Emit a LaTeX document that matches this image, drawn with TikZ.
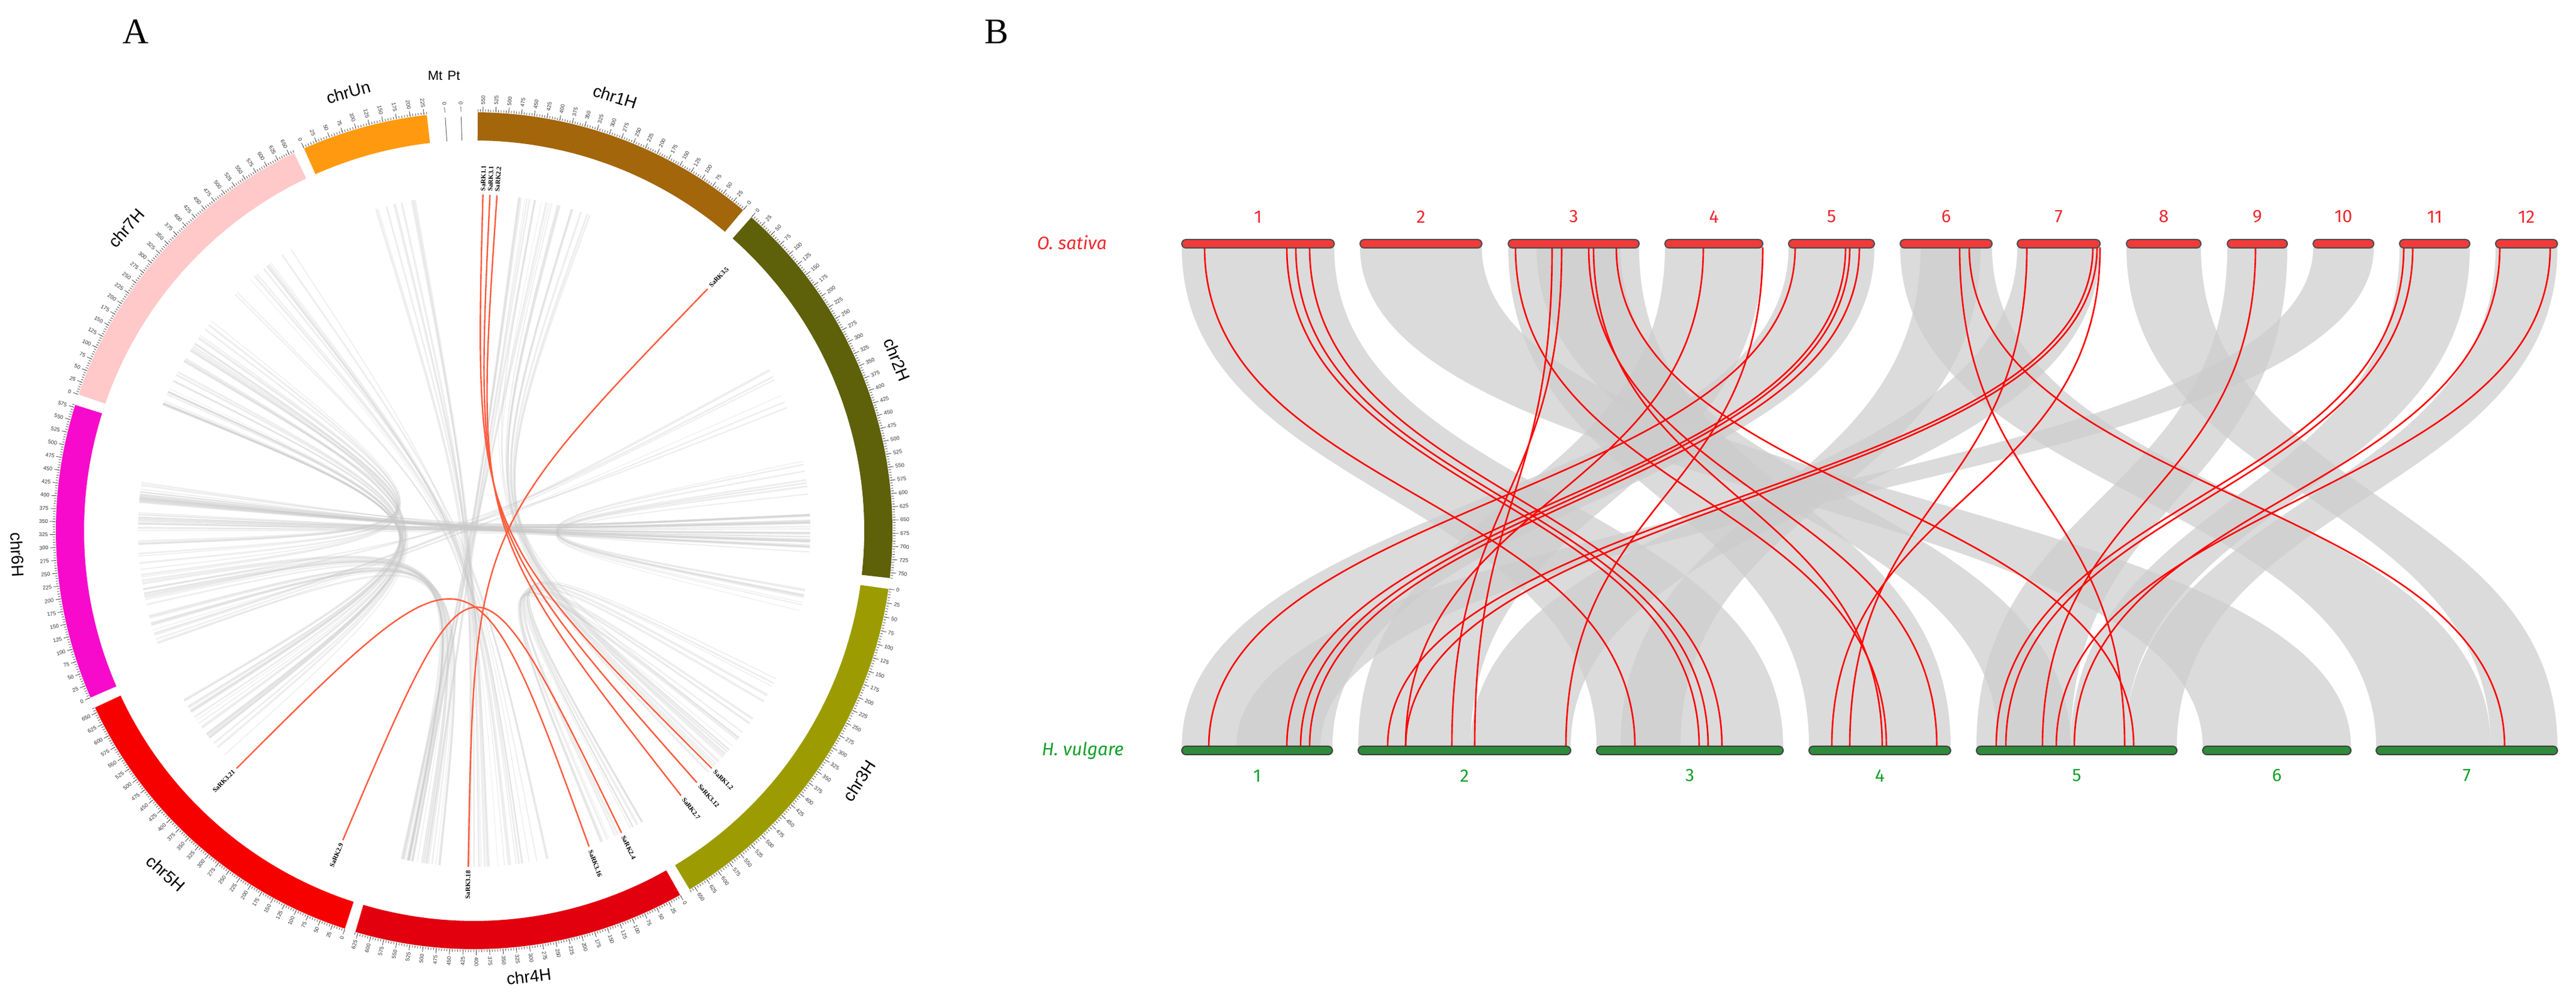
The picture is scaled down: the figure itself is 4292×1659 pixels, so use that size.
\documentclass[tikz,border=0pt]{standalone}
\usepackage{fontspec}
\setmainfont{Liberation Serif}
\newfontfamily\sansf{Liberation Sans}
\newfontfamily\fira{Fira Sans}
\definecolor{c1}{HTML}{A3660A}
\definecolor{c2}{HTML}{5E600A}
\definecolor{c3}{HTML}{9C9C02}
\definecolor{c4}{HTML}{E2000F}
\definecolor{c5}{HTML}{F70000}
\definecolor{c6}{HTML}{F70ACB}
\definecolor{c7}{HTML}{FFC9C9}
\definecolor{c8}{HTML}{FF9A10}
\definecolor{rlk}{HTML}{FF5A3C}
\definecolor{rtx}{HTML}{F0282D}
\definecolor{gtx}{HTML}{13A02A}
\definecolor{gbar}{HTML}{2E8B3A}
\definecolor{rbar}{HTML}{F23A3A}
\tikzset{
 tick/.style={line width=0.8pt,black!70},
 ticklab/.style={font=\sansf\fontsize{9}{9}\selectfont,inner sep=0pt,text=black!80},
 chrname/.style={font=\sansf\fontsize{28}{28}\selectfont,inner sep=0pt},
 gene/.style={font=\bfseries\fontsize{11}{11}\selectfont,inner sep=0pt},
 redlink/.style={rlk,line width=2.4pt},
 graylink/.style={black!22,opacity=0.3},
 rib/.style={fill=black!20,opacity=0.7},
 rline/.style={red,line width=2.6pt},
 ricebar/.style={fill=rbar,draw=black!70,line width=2pt,rounded corners=7pt},
 barbar/.style={fill=gbar,draw=black!75,line width=2pt,rounded corners=7pt},
 rnum/.style={font=\fira\fontsize{30}{30}\selectfont,text=rtx},
 gnum/.style={font=\fira\fontsize{30}{30}\selectfont,text=gtx},
 panel/.style={font=\fontsize{60}{60}\selectfont}
}
\newcommand\chrom[8]{%
 \fill[#5] ({90-#1}:650pt) arc[start angle={90-#1},end angle={90-#2},radius=650pt] -- ({90-#2}:697pt) arc[start angle={90-#2},end angle={90-#1},radius=697pt] -- cycle;
 \pgfmathsetmacro\scl{(#2-#1)/#3}
 \pgfmathtruncatemacro\Lmin{5*floor(#3/5)}
 \pgfmathtruncatemacro\Lmaj{25*floor(#3/25)}
 \foreach \v in {0,5,...,\Lmin}{\pgfmathsetmacro\tA{#4==1 ? #2-\v*\scl : #1+\v*\scl}
   \draw[tick] ({90-\tA}:698pt) -- ({90-\tA}:702pt);}
 \foreach \v in {0,25,...,\Lmaj}{\pgfmathsetmacro\tA{#4==1 ? #2-\v*\scl : #1+\v*\scl}
   \draw[tick] ({90-\tA}:698pt) -- ({90-\tA}:707pt);
   \ifdim\tA pt<180pt \node[ticklab,anchor=west,rotate={90-\tA}] at ({90-\tA}:710pt) {\v};
   \else \node[ticklab,anchor=east,rotate={270-\tA}] at ({90-\tA}:710pt) {\v};\fi}
 \pgfmathsetmacro\tA{#7}
 \ifdim\tA pt>90pt \ifdim\tA pt<290pt \node[chrname,rotate={180-\tA}] at ({90-\tA}:#8pt) {#6};
   \else \node[chrname,rotate={-\tA}] at ({90-\tA}:#8pt) {#6};\fi
 \else \node[chrname,rotate={-\tA}] at ({90-\tA}:#8pt) {#6};\fi
}
\newcommand\rlink[2]{\draw[redlink] ({90-#1}:560pt) .. controls (0,0) .. ({90-#2}:560pt);}
\newcommand\gene[2]{%
 \ifdim#1pt<180pt \node[gene,anchor=west,rotate={90-#1}] at ({90-#1}:566pt) {#2};
 \else \node[gene,anchor=east,rotate={270-#1}] at ({90-#1}:566pt) {#2};\fi}
\newcommand\rib[4]{\fill[rib] (#1,1247) .. controls (#1,831) and (#3,831) .. (#3,415) -- (#4,415) .. controls (#4,831) and (#2,831) .. (#2,1247) -- cycle;}
\begin{document}
\begin{tikzpicture}[x=1pt,y=1pt]
\useasboundingbox (0,0) rectangle (4292,1659);
\node[panel] (pA) at (226,1606) {A};
\node[panel] (pB) at (1660,1606) {B};
% ---------------- Panel A ----------------
\begin{scope}[shift={(790,775)}]
 \pgfmathsetseed{11}
 \foreach \n/\aa/\wa/\bb/\wb in {34/270/9/87/7, 22/292/12/228/12, 16/250/12/185/9, 12/314/14/166/12, 10/343/7/177/5, 12/8/16/128/12, 8/78/6/100/5, 14/116/16/150/8, 8/5/8/187/6, 10/300/10/262/8, 6/60/10/250/10}{
  \foreach \i in {1,...,\n}{
   \pgfmathsetmacro\ta{\aa+\wa*rnd}
   \pgfmathsetmacro\tb{\bb+\wb*rnd}
   \pgfmathsetmacro\lw{1+3*rnd}
   \draw[graylink,line width=\lw pt] ({90-\ta}:560pt) .. controls (0,0) .. ({90-\tb}:560pt);
  }}
 \chrom{0.5}{40}{560}{1}{c1}{chr1H}{18}{760}
 \chrom{41.5}{96.5}{760}{0}{c2}{chr2H}{68}{760}
 \chrom{98}{149}{660}{0}{c3}{chr3H}{123}{765}
 \chrom{150.5}{196.5}{630}{0}{c4}{chr4H}{173}{748}
 \chrom{198}{245}{660}{0}{c5}{chr5H}{222}{768}
 \chrom{246.5}{287.5}{580}{0}{c6}{chr6H}{267}{762}
 \chrom{289}{334.5}{660}{0}{c7}{chr7H}{311}{768}
 \chrom{336}{353.5}{230}{0}{c8}{chrUn}{344}{760}
 \foreach \t in {356,358.2}{
  \draw[black!60,line width=1pt] ({90-\t}:650pt) -- ({90-\t}:690pt);
  \draw[tick] ({90-\t}:698pt) -- ({90-\t}:707pt);
  \node[ticklab,anchor=east,rotate={270-\t}] at ({90-\t}:710pt) {0};}
 \node[font=\sansf\fontsize{22}{22}\selectfont] (mt) at (-65,758) {Mt};
 \node[font=\sansf\fontsize{22}{22}\selectfont] (pt) at (-34,758) {Pt};
 \rlink{1.5}{135}
 \rlink{2.7}{138.5}
 \rlink{3.9}{142}
 \rlink{44}{181}
 \rlink{225}{160}
 \rlink{203}{154}
 \gene{1.5}{SaRK1.1}
 \gene{2.7}{SaRK3.1}
 \gene{3.9}{SaRK2.2}
 \gene{135}{SaRK1.2}
 \gene{138.5}{SaRK3.12}
 \gene{142}{SaRK2.7}
 \gene{44}{SaRK3.5}
 \gene{181}{SaRK3.18}
 \gene{225}{SaRK3.21}
 \gene{160}{SaRK3.16}
 \gene{203}{SaRK2.9}
 \gene{154}{SaRK2.4}
\end{scope}
% ---------------- Panel B ----------------
\rib{1969}{2223}{2660}{2971}
\rib{2266}{2469}{3670}{3917}
\rib{2513}{2731}{3014}{3250}
\rib{2774}{2937}{2263}{2450}
\rib{2980}{3123}{1969}{2220}
\rib{3166}{3319}{3959}{4150}
\rib{3361}{3499}{2450}{2617}
\rib{3543}{3667}{4150}{4261}
\rib{3711}{3811}{3293}{3450}
\rib{3854}{3955}{2060}{2200}
\rib{3998}{4115}{3450}{3540}
\rib{4158}{4261}{3540}{3627}
\rib{2560}{2700}{3330}{3450}
\rib{3200}{3300}{2700}{2800}
\foreach \a/\b in {2007/2724,2144/2831,2159/2846,2182/2869,2991/2014,3075/2144,3082/2167,3098/2182,2525/3143,2586/2457,2602/2419,2647/3227,2655/3136,2693/3555,2838/2342,2937/2609,3377/3082,3487/2312,3494/2342,3265/3540,3281/4173,3758/3403,4005/3326,4020/3342,4165/3456,4249/3426,3499/3052}{
 \draw[rline] (\a,1247) .. controls (\a,831) and (\b,831) .. (\b,415);}
\foreach \a/\b/\l in {1969/2223/1,2266/2469/2,2513/2731/3,2774/2937/4,2980/3123/5,3166/3319/6,3361/3499/7,3543/3667/8,3711/3811/9,3854/3955/10,3998/4115/11,4158/4261/12}{
 \draw[ricebar] (\a,1246) rectangle (\b,1260);
 \node[rnum] (r\l) at ({(\a+\b)/2},1298) {\l};}
\foreach \a/\b/\l in {1969/2220/1,2263/2617/2,2660/2971/3,3014/3250/4,3293/3627/5,3670/3917/6,3959/4261/7}{
 \draw[barbar] (\a,402) rectangle (\b,416);
 \node[gnum] (h\l) at ({(\a+\b)/2},367) {\l};}
\node[font=\fira\itshape\fontsize{30}{30}\selectfont,text=rtx] (os) at (1786,1255) {O. sativa};
\node[font=\fira\itshape\fontsize{30}{30}\selectfont,text=gtx] (hv) at (1804,409) {H. vulgare};
\end{tikzpicture}
\end{document}
